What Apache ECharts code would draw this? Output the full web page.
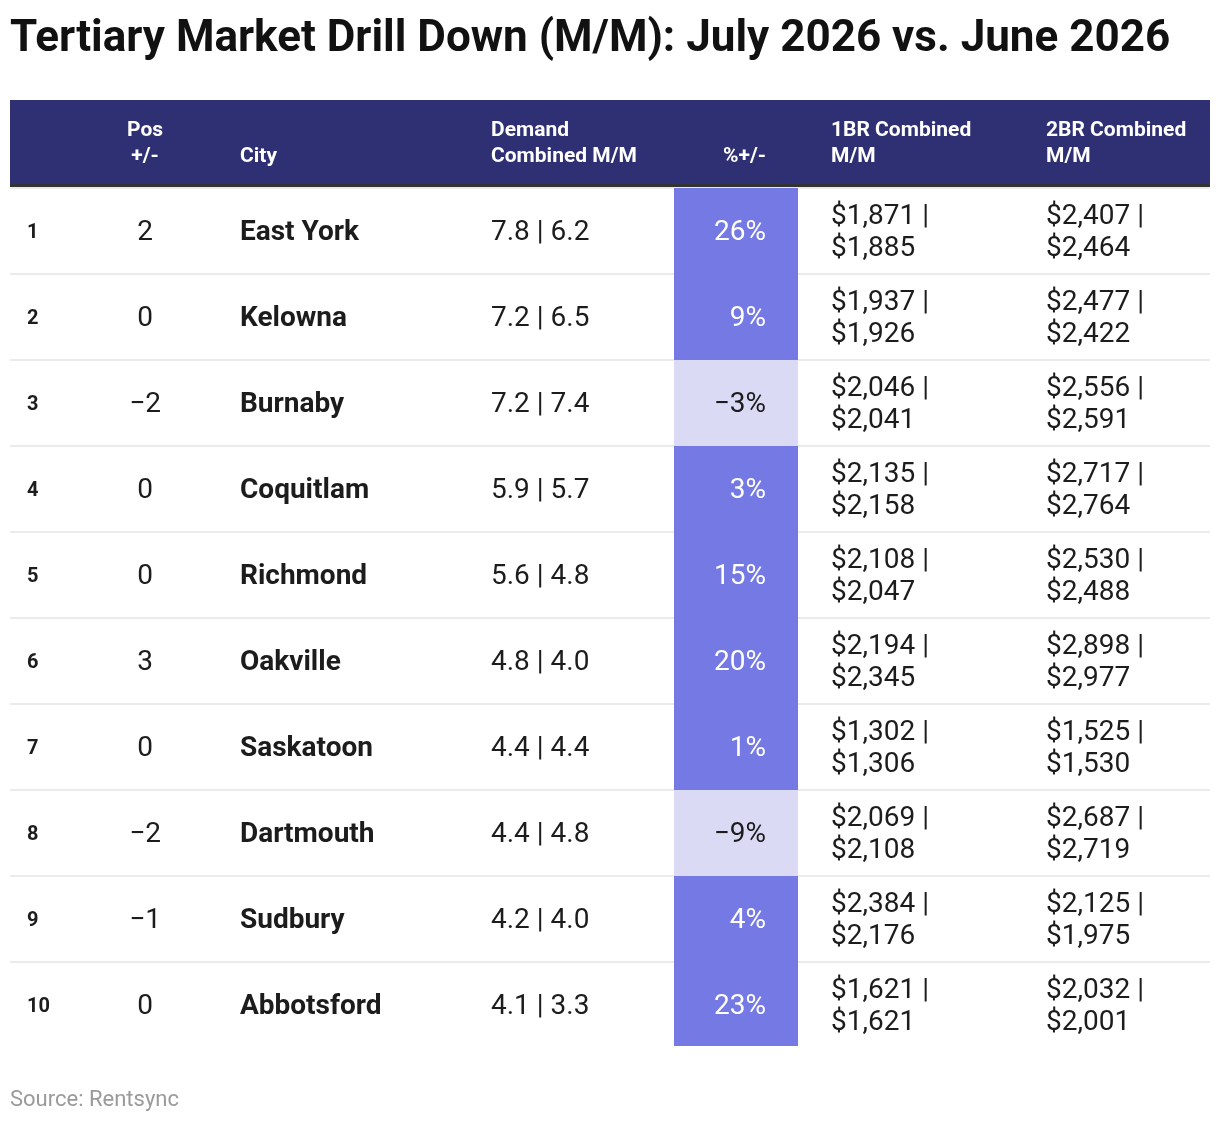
<!DOCTYPE html>
<html>
<head>
<meta charset="utf-8">
<script src="https://cdn.jsdelivr.net/npm/echarts@6/dist/echarts.min.js"></script>
<style>
  html, body { margin: 0; padding: 0; background: #fff; }
  #main { width: 1220px; height: 1122px; }
</style>
</head>
<body>
<div id="main"></div>
<script>
// table data
var ranks = ['1', '2', '3', '4', '5', '6', '7', '8', '9', '10'];
var posChange = [2, 0, -2, 0, 0, 3, 0, -2, -1, 0];
var cities = ['East York', 'Kelowna', 'Burnaby', 'Coquitlam', 'Richmond', 'Oakville', 'Saskatoon', 'Dartmouth', 'Sudbury', 'Abbotsford'];
var demandJul = [7.8, 7.2, 7.2, 5.9, 5.6, 4.8, 4.4, 4.4, 4.2, 4.1];
var demandJun = [6.2, 6.5, 7.4, 5.7, 4.8, 4.0, 4.4, 4.8, 4.0, 3.3];
var pctChange = [26, 9, -3, 3, 15, 20, 1, -9, 4, 23];
var br1Jul = [1871, 1937, 2046, 2135, 2108, 2194, 1302, 2069, 2384, 1621];
var br1Jun = [1885, 1926, 2041, 2158, 2047, 2345, 1306, 2108, 2176, 1621];
var br2Jul = [2407, 2477, 2556, 2717, 2530, 2898, 1525, 2687, 2125, 2032];
var br2Jun = [2464, 2422, 2591, 2764, 2488, 2977, 1530, 2719, 1975, 2001];

// column positions on the x axis (0..1200 across the table)
var COL = { rank: 17, pos: 135, city: 230, demand: 481, pctL: 664, pctR: 788, pctText: 756, br1: 821, br2: 1036 };
var FONT = 'Roboto, "Noto Sans", sans-serif';

function minus(v) { return v < 0 ? '\u2212' + Math.abs(v) : String(v); }
function money(v) { return '$' + v.toLocaleString('en-US'); }

var chart = echarts.init(document.getElementById('main'));

var header = [
    { t: 'Pos\n+/-', x: 145, align: 'center' },
    { t: 'City', x: 240, align: 'left' },
    { t: 'Demand\nCombined M/M', x: 491, align: 'left' },
    { t: '%+/-', x: 766, align: 'right' },
    { t: '1BR Combined\nM/M', x: 831, align: 'left' },
    { t: '2BR Combined\nM/M', x: 1046, align: 'left' }
];

var graphics = [
    { type: 'rect', shape: { x: 10, y: 100, width: 1200, height: 84 }, style: { fill: '#2f2f74' } },
    { type: 'rect', shape: { x: 10, y: 184, width: 1200, height: 4 }, style: { fill: '#333333' } },
    // hide the split line under the last row
    { type: 'rect', z: 10, shape: { x: 10, y: 1046, width: 1200, height: 4 }, style: { fill: '#ffffff' } }
];
header.forEach(function (h) {
    graphics.push({
        type: 'text', x: h.x, y: 170, z: 10,
        style: {
            text: h.t, fill: '#ffffff', font: 'bold 21px ' + FONT,
            align: h.align, verticalAlign: 'bottom', lineHeight: 26
        }
    });
});

option = {
    backgroundColor: '#ffffff',
    animation: false,
    title: [{
        text: 'Tertiary Market Drill Down (M/M): July 2026 vs. June 2026',
        left: 10,
        top: 18,
        padding: 0,
        textStyle: { fontFamily: FONT, fontSize: 44, fontWeight: 'bold', color: '#111111' }
    }, {
        text: 'Source: Rentsync',
        left: 10,
        top: 1089,
        padding: 0,
        textStyle: { fontFamily: FONT, fontSize: 22, fontWeight: 'normal', color: '#9a9a9a' }
    }],
    grid: { left: 10, width: 1200, top: 188, height: 860 },
    xAxis: { type: 'value', min: 0, max: 1200, show: false },
    yAxis: {
        type: 'category',
        data: ranks,
        inverse: true,
        axisLine: { show: false },
        axisTick: { show: false },
        axisLabel: { show: false },
        splitLine: { show: true, lineStyle: { color: '#ebebeb', width: 2 } }
    },
    graphic: graphics,
    series: [{
        // % change cell backgrounds
        type: 'custom',
        data: pctChange.map(function (v, i) { return [v, i]; }),
        renderItem: function (params, api) {
            var v = api.value(0);
            var i = api.value(1);
            var p0 = api.coord([COL.pctL, i]);
            var p1 = api.coord([COL.pctR, i]);
            var h = api.size([0, 1])[1];
            return {
                type: 'rect',
                shape: { x: p0[0], y: p0[1] - h / 2, width: p1[0] - p0[0], height: h },
                style: { fill: v >= 0 ? '#7479e4' : '#dadaf5' }
            };
        },
        z: 1
    }, {
        // cell texts
        type: 'custom',
        data: ranks.map(function (r, i) { return [i]; }),
        renderItem: function (params, api) {
            var i = api.value(0);
            function txt(x, s, font, align, color) {
                var p = api.coord([x, i]);
                return {
                    type: 'text', x: p[0], y: p[1] + 2,
                    style: {
                        text: s, font: font, fill: color || '#1c1c1c',
                        align: align, verticalAlign: 'middle', lineHeight: 32
                    }
                };
            }
            var body = '28px ' + FONT;
            return {
                type: 'group',
                children: [
                    txt(COL.rank, ranks[i], 'bold 20px ' + FONT, 'left'),
                    txt(COL.pos, minus(posChange[i]), body, 'center'),
                    txt(COL.city, cities[i], 'bold 28px ' + FONT, 'left'),
                    txt(COL.demand, demandJul[i].toFixed(1) + ' | ' + demandJun[i].toFixed(1), body, 'left'),
                    txt(COL.pctText, minus(pctChange[i]) + '%', body, 'right', pctChange[i] >= 0 ? '#ffffff' : '#1c1c1c'),
                    txt(COL.br1, money(br1Jul[i]) + ' |\n' + money(br1Jun[i]), body, 'left'),
                    txt(COL.br2, money(br2Jul[i]) + ' |\n' + money(br2Jun[i]), body, 'left')
                ]
            };
        },
        z: 3
    }]
};

chart.setOption(option);
</script>
</body>
</html>
